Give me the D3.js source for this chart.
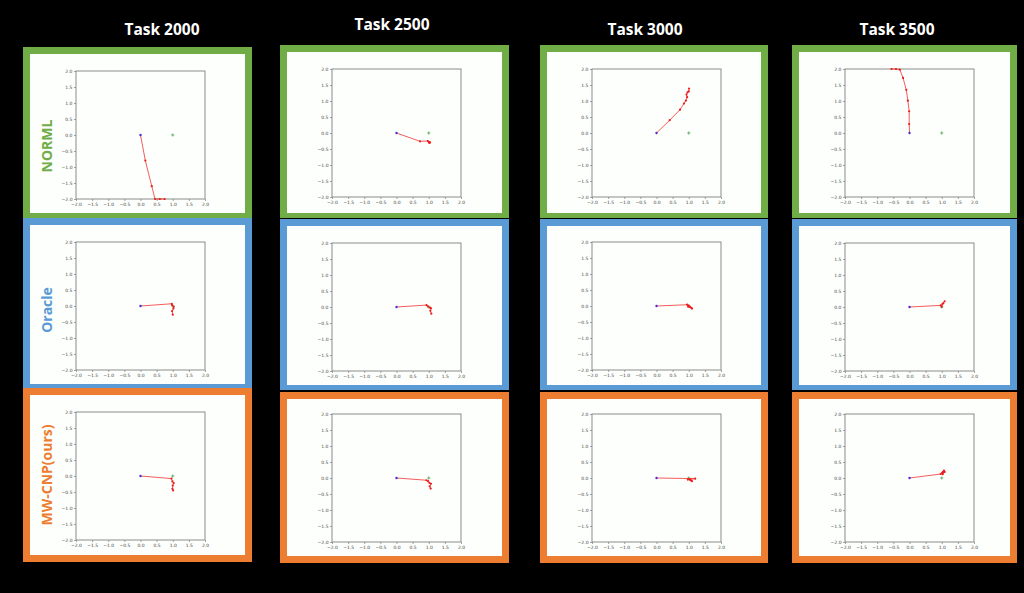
<!DOCTYPE html>
<html>
<head>
<meta charset="utf-8">
<title>Trajectories</title>
<style>
  body { margin: 0; padding: 0; background: black; }
  svg { display: block; }
  .tick text { font-family: "DejaVu Sans", sans-serif; font-size: 4.5px; fill: #444; }
  .tick line { stroke: #666; stroke-width: 0.6; }
</style>
</head>
<body>
<svg id="image" width="1024" height="593"></svg>
<script src="https://d3js.org/d3.v7.min.js"></script>
<script>
var tasks = ["Task 2000", "Task 2500", "Task 3000", "Task 3500"];
var methods = ["NORML", "Oracle", "MW-CNP(ours)"];
var ticks = [-2.0, -1.5, -1.0, -0.5, 0.0, 0.5, 1.0, 1.5, 2.0];
var startPoint = [0, 0];
var goalPoint = [1, 0];

// trajectories, one list per task
var normlPaths = [
    [[0, 0], [0.15, -0.8], [0.35, -1.6], [0.45, -2.0], [0.6, -2.0], [0.75, -2.0]],
    [[0, 0], [0.73, -0.26], [0.97, -0.25], [1.02, -0.30], [1.0, -0.28], [1.04, -0.29], [1.02, -0.31]],
    [[0, 0], [0.41, 0.40], [0.73, 0.73], [0.85, 0.92], [0.91, 1.01], [0.95, 1.12], [0.93, 1.20], [0.96, 1.27], [1.0, 1.30], [1.01, 1.39]],
    [[0, 0], [-0.01, 0.28], [-0.01, 0.68], [-0.05, 1.01], [-0.10, 1.35], [-0.20, 1.72], [-0.30, 1.98], [-0.42, 2.0], [-0.56, 2.0]]
];
var oraclePaths = [
    [[0, 0], [0.97, 0.07], [0.98, 0.03], [1.03, -0.02], [1.02, -0.08], [0.98, -0.16], [1.0, -0.27]],
    [[0, 0], [0.93, 0.06], [0.97, 0.02], [1.04, -0.02], [1.07, -0.04], [1.05, -0.12], [1.08, -0.21]],
    [[0, 0], [0.95, 0.04], [1.0, 0.01], [0.98, -0.02], [1.04, -0.03], [1.08, -0.06], [1.1, -0.08]],
    [[0, 0], [0.97, 0.05], [1.0, 0.01], [1.02, 0.09], [1.05, 0.12], [1.09, 0.18]]
];
var mwcnpPaths = [
    [[0, 0], [0.96, -0.08], [0.99, -0.17], [1.03, -0.22], [1.0, -0.30], [0.99, -0.40], [1.01, -0.45]],
    [[0, 0], [0.93, -0.07], [0.98, -0.10], [1.02, -0.15], [1.07, -0.18], [1.03, -0.26], [1.06, -0.33]],
    [[0, 0], [1.2, -0.02], [0.97, -0.05], [1.02, -0.04], [1.06, -0.07], [1.1, -0.1], [1.05, -0.06]],
    [[0, 0], [0.97, 0.125], [1.01, 0.16], [1.04, 0.19], [1.07, 0.23], [1.03, 0.12], [1.09, 0.19]]
];
var allPaths = [normlPaths, oraclePaths, mwcnpPaths];

var methodColors = ["#70ad47", "#5b9bd5", "#ed7d31"];

// panel layout
var colX = [23, 280, 540, 792];
var colW = [229, 229, 228, 225];
var rowTop = [[47, 45, 45, 45], [218, 219, 219, 219], [388, 392, 392, 392]];
var rowBottom = [[218, 218, 218, 218], [389, 390, 390, 390], [562, 563, 563, 563]];
var axX = [76, 332, 592, 845];
var axY = [[71, 69, 69, 69], [242, 243, 242, 243], [412, 414, 414, 414]];
var axW = 129, axH = 128;

var titleX = [162, 392, 645, 897];
var titleY = [35, 30, 35, 35];
var labelY = [146, 310, 475];

var svg = d3.select("#image");
svg.append("rect").attr("width", 1024).attr("height", 593).attr("fill", "black");

tasks.forEach(function(t, c) {
    svg.append("text")
        .attr("x", titleX[c])
        .attr("y", titleY[c])
        .attr("text-anchor", "middle")
        .attr("font-family", "Open Sans, sans-serif")
        .attr("font-weight", "bold")
        .attr("font-size", 15.5)
        .attr("fill", "white")
        .text(t);
});

var fmt = d3.format(".1f");

allPaths.forEach(function(paths, r) {
    paths.forEach(function(path, c) {
        var top = rowTop[r][c], bottom = rowBottom[r][c];
        svg.append("rect")
            .attr("x", colX[c]).attr("y", top)
            .attr("width", colW[c]).attr("height", bottom - top)
            .attr("fill", methodColors[r]);
        var padB = r == 2 ? 7 : 5;
        svg.append("rect")
            .attr("x", colX[c] + 7).attr("y", top + 7)
            .attr("width", colW[c] - 14).attr("height", bottom - top - 7 - padB)
            .attr("fill", "#fcfffc");

        var x = d3.scaleLinear().domain([-2, 2]).range([axX[c], axX[c] + axW]);
        var y = d3.scaleLinear().domain([-2, 2]).range([axY[r][c] + axH, axY[r][c]]);

        var gx = svg.append("g")
            .attr("transform", "translate(0," + (axY[r][c] + axH) + ")")
            .call(d3.axisBottom(x).tickValues(ticks).tickSize(2).tickPadding(1.5).tickFormat(fmt));
        var gy = svg.append("g")
            .attr("transform", "translate(" + axX[c] + ",0)")
            .call(d3.axisLeft(y).tickValues(ticks).tickSize(2).tickPadding(1.5).tickFormat(fmt));
        gx.select(".domain").remove();
        gy.select(".domain").remove();

        svg.append("rect")
            .attr("x", axX[c]).attr("y", axY[r][c])
            .attr("width", axW).attr("height", axH)
            .attr("fill", "none")
            .attr("stroke", "#808080")
            .attr("stroke-width", 0.9);

        var line = d3.line().x(function(d) { return x(d[0]); }).y(function(d) { return y(d[1]); });

        // goal marker
        svg.append("path")
            .attr("d", "M" + (x(goalPoint[0]) - 1.6) + "," + y(goalPoint[1]) + "h3.2M" + x(goalPoint[0]) + "," + (y(goalPoint[1]) - 1.6) + "v3.2")
            .attr("stroke", "#3a9a3a")
            .attr("stroke-width", 0.7);

        svg.append("path")
            .datum(path)
            .attr("d", line)
            .attr("fill", "none")
            .attr("stroke", "#f02a2a")
            .attr("stroke-opacity", 0.85)
            .attr("stroke-width", 0.9);

        svg.selectAll(null)
            .data(path.slice(1))
            .enter().append("circle")
            .attr("cx", function(d) { return x(d[0]); })
            .attr("cy", function(d) { return y(d[1]); })
            .attr("r", 1.1)
            .attr("fill", "#ee1c1c");

        svg.append("circle")
            .attr("cx", x(startPoint[0]))
            .attr("cy", y(startPoint[1]))
            .attr("r", 1.2)
            .attr("fill", "#4b2bd0");
    });

    svg.append("text")
        .attr("transform", "translate(52," + labelY[r] + ") rotate(-90)")
        .attr("text-anchor", "middle")
        .attr("font-family", "Open Sans, sans-serif")
        .attr("font-weight", "bold")
        .attr("font-size", 14)
        .attr("fill", methodColors[r])
        .text(methods[r]);
});
</script>
</body>
</html>
